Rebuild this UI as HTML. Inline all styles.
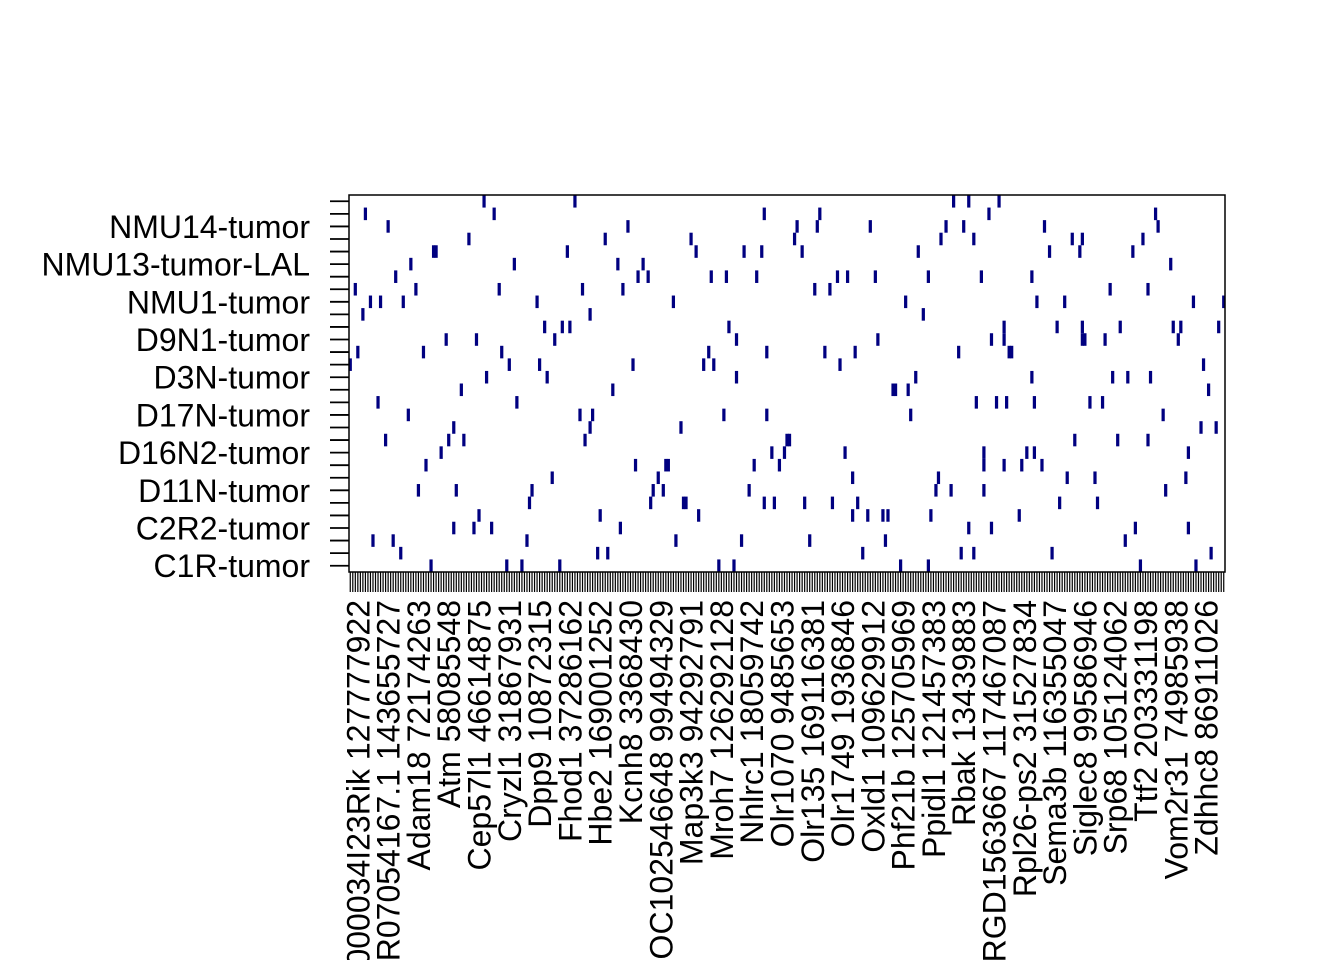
<!DOCTYPE html>
<html><head><meta charset="utf-8"><style>
html,body{margin:0;padding:0;background:#fff;width:1344px;height:960px;overflow:hidden}
svg{overflow:hidden;display:block}
svg text{font-family:"Liberation Sans",Arial,sans-serif;font-size:32px;fill:#000}
</style></head><body>
<svg id="chart" width="1344" height="960" viewBox="0 0 1344 960" xmlns="http://www.w3.org/2000/svg"></svg>
<script>
// ---- data ----
const nCols = 347;
const nRows = 30;
const rowLabels = ["C1R-tumor","C2R2-tumor","D11N-tumor","D16N2-tumor","D17N-tumor","D3N-tumor","D9N1-tumor","NMU1-tumor","NMU13-tumor-LAL","NMU14-tumor"];
const geneLabels = ["A430000034I23Rik 127777922","AR07054167.1 143655727","Adam18 72174263","Atm 58085548","Cep57l1 46614875","Cryzl1 31867931","Dpp9 10872315","Fhod1 37286162","Hbe2 169001252","Kcnh8 3368430","LOC102546648 99494329","Map3k3 94292791","Mroh7 126292128","Nhlrc1 18059742","Olr1070 9485653","Olr135 169116381","Olr1749 1936846","Oxld1 109629912","Phf21b 125705969","Ppidl1 121457383","Rbak 13439883","RGD1563667 117467087","Rpl26-ps2 31527834","Sema3b 116355047","Siglec8 99586946","Srp68 105124062","Ttf2 203331198","Vom2r31 74985938","Zdhhc8 86911026"];
// mutated columns per row (row 0 = bottom)
const row0 = [32,62,68,83,146,152,218,229,313,335];
const row1 = [20,98,102,203,242,247,278,341];
const row2 = [9,17,70,129,155,182,212,307];
const row3 = [41,49,56,107,245,254,311,332];
const row4 = [51,99,138,199,205,211,213,230,265];
const row5 = [71,119,132,133,164,168,180,191,201,281,296];
const row6 = [27,42,72,120,124,158,232,238,251,323];
const row7 = [80,122,199,233,284,295,331];
const row8 = [30,113,125,126,160,170,251,259,266,274];
const row9 = [36,167,172,196,251,268,271,332];
const row10 = [14,39,45,93,173,174,287,304,316];
const row11 = [41,95,131,337,343];
const row12 = [23,91,96,148,165,222,322];
const row13 = [11,66,248,256,260,271,293,298];
const row14 = [44,104,215,216,221,340];
const row15 = [54,78,153,224,270,302,308,317];
const row16 = [0,63,75,112,140,144,194,338];
const row17 = [3,29,60,142,165,188,200,241,261,262];
const row18 = [38,50,81,153,209,254,259,290,291,299,328];
const row19 = [77,84,87,150,259,280,290,305,326,329,344];
const row20 = [5,95,227];
const row21 = [8,12,21,74,128,220,272,283,334,346];
const row22 = [2,26,59,92,108,184,190,301,316];
const row23 = [18,114,118,143,149,161,193,197,208,229,250,270];
const row24 = [24,65,106,116,325];
const row25 = [33,34,86,137,156,163,179,225,277,289,310];
const row26 = [47,101,135,176,234,247,286,290,314];
const row27 = [15,110,177,185,206,236,243,275,320];
const row28 = [6,57,164,186,253,319];
const row29 = [53,89,239,245,257];
const rowsData = [row0,row1,row2,row3,row4,row5,row6,row7,row8,row9,row10,row11,row12,row13,row14,row15,row16,row17,row18,row19,row20,row21,row22,row23,row24,row25,row26,row27,row28,row29];

// ---- layout ----
const L = 349, R = 1225, T = 195, B = 572;
const cw = (R - L) / nCols, rh = (B - T) / nRows;
const xOf = c => L + c * cw;
const yOf = r => B - (r + 1) * rh;
const NS = "http://www.w3.org/2000/svg";
const svg = document.getElementById("chart");
function mk(tag, attrs){ const e = document.createElementNS(NS, tag); for (const k in attrs) e.setAttribute(k, attrs[k]); svg.appendChild(e); return e; }

// cells
rowsData.forEach((cols, r) => {
  cols.forEach(c => {
    const e = mk("rect", {x: xOf(c) - 0.35, y: yOf(r), width: cw + 0.7, height: rh, fill: "#000080"});
    
    
  });
});

// frame
const fr = mk("rect", {x: L, y: T, width: R - L, height: B - T, fill: "none", stroke: "#000", "stroke-width": 1.5});



// y ticks (every row)
let d = "";
for (let r = 0; r < nRows; r++) { const y = yOf(r) + rh / 2; d += `M${L - 19},${y}H${L}`; }
const yt = mk("path", {d: d, stroke: "#000", "stroke-width": 1.8});



// x ticks (every column)
d = "";
for (let c = 0; c < nCols; c++) { const x = xOf(c) + cw / 2; d += `M${x},${B}V${B + 20}`; }
const xt = mk("path", {d: d, stroke: "#000", "stroke-width": 1.2});



// y labels (every 3rd row)
rowLabels.forEach((lab, i) => {
  const r = i * 3;
  const t = mk("text", {x: 310, y: yOf(r) + rh / 2, "text-anchor": "end", dy: "0.36em"});
  t.textContent = lab;
  
  
});

// x labels (every 12th column from 3)
geneLabels.forEach((lab, i) => {
  const c = 3 + 12 * i;
  const x = xOf(c) + cw / 2, y = 600;
  const t = mk("text", {x: x, y: y, "text-anchor": "end", dy: "0.36em", transform: `rotate(-90 ${x} ${y})`});
  t.textContent = lab;
  
  
});
</script>
</body></html>
